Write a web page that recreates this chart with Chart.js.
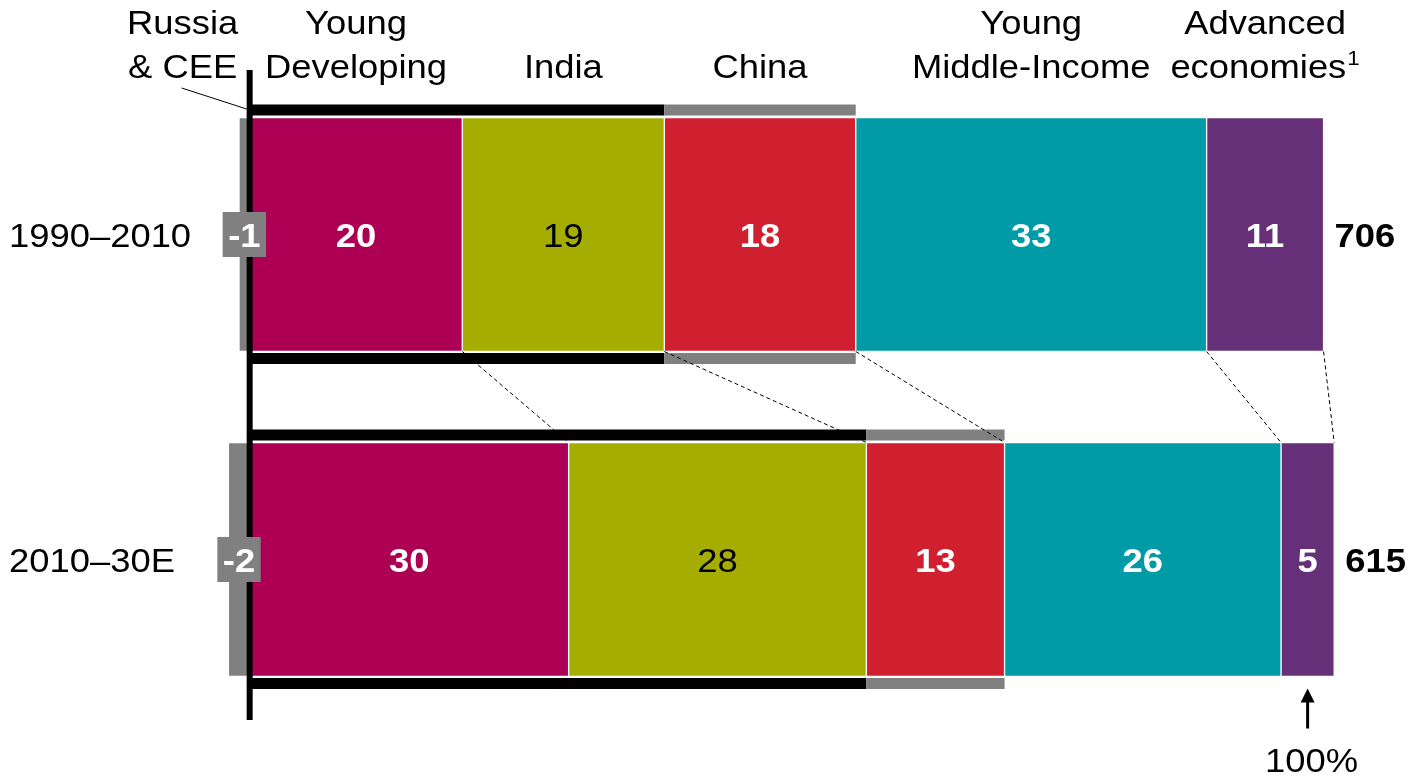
<!DOCTYPE html>
<html>
<head>
<meta charset="utf-8">
<script src="https://cdn.jsdelivr.net/npm/chart.js@4.4.0/dist/chart.umd.min.js"></script>
<style>
  html, body { margin: 0; padding: 0; background: #fff; }
  #wrap { width: 1412px; height: 777px; position: relative; }
</style>
</head>
<body>
<div id="wrap"><canvas id="c"></canvas></div>
<script>
// periods and segment groups
const periods = ['1990–2010', '2010–30E'];
const groupNames = [['Russia', '& CEE'], ['Young', 'Developing'], ['India'], ['China'], ['Young', 'Middle-Income'], ['Advanced', 'economies']];
const groupNotes = ['', '', '', '', '', '1'];

// share of growth, % (per period)
const russiaCEE = [-1, -2];
const youngDeveloping = [20, 30];
const india = [19, 28];
const china = [18, 13];
const youngMiddleIncome = [33, 26];
const advanced = [11, 5];
const totals = [706, 615];
const arrowLabel = '100%';

const series = [russiaCEE, youngDeveloping, india, china, youngMiddleIncome, advanced];
const COLORS = ['#808080', '#ad0055', '#a5ad00', '#d0202f', '#009ba7', '#663079'];
const DARK_LABEL = [false, false, true, false, false, false];
const FONT = '"Liberation Sans", Arial, sans-serif';
const SX = 1.07; // text in the picture is a bit wide
const SIZE = 34;

function setFont(ctx, size, bold) { ctx.font = (bold ? 'bold ' : '') + size + 'px ' + FONT; }
function text(ctx, s, x, y, o) {
  o = o || {};
  ctx.save();
  setFont(ctx, o.size || SIZE, o.bold);
  ctx.fillStyle = o.color || '#000';
  ctx.textAlign = o.align || 'center';
  ctx.textBaseline = 'alphabetic';
  ctx.translate(x, y); ctx.scale(SX, 1);
  ctx.fillText(s, 0, 0);
  ctx.restore();
}
function textWidth(ctx, s, size, bold) {
  ctx.save(); setFont(ctx, size, bold);
  const w = ctx.measureText(s).width * SX;
  ctx.restore(); return w;
}

const overlay = {
  id: 'overlay',
  afterDatasetsDraw(chart) {
    const { ctx, chartArea } = chart;
    const zero = chart.scales.x.getPixelForValue(0);
    const bars = chart.data.datasets.map((_, i) => chart.getDatasetMeta(i).data);
    const row = (r) => { const el = bars[1][r]; return { y: el.y, top: el.y - el.height / 2, bottom: el.y + el.height / 2 }; };
    const mid = (el) => (el.x + el.base) / 2;
    const capOff = SIZE * 0.36;

    // black / grey brackets above and below each bar
    periods.forEach((_, r) => {
      const { top, bottom } = row(r);
      const blackEnd = bars[2][r].x, greyStart = bars[3][r].base, greyEnd = bars[3][r].x;
      [top - 13, bottom + 1.5].forEach((yy) => {
        ctx.fillStyle = '#000'; ctx.fillRect(zero, yy, blackEnd - zero, 11);
        ctx.fillStyle = '#808080'; ctx.fillRect(greyStart, yy, greyEnd - greyStart, 11);
      });
    });

    // dashed connectors between the two bars
    const r0 = row(0), r1 = row(1);
    const links = [2, 3, 4, 5].map((i) => [bars[i][0].base, bars[i][1].base]);
    links.push([bars[5][0].x, bars[5][1].x]);
    ctx.save();
    ctx.setLineDash([4, 3]); ctx.lineWidth = 1; ctx.strokeStyle = '#000';
    links.forEach(([a, b]) => { ctx.beginPath(); ctx.moveTo(a, r0.bottom); ctx.lineTo(b, r1.top); ctx.stroke(); });
    ctx.restore();

    // zero axis
    ctx.fillStyle = '#000';
    ctx.fillRect(zero - 3, chartArea.top - 2, 6, chartArea.bottom - chartArea.top);

    // segment values
    for (let i = 1; i < series.length; i++) {
      bars[i].forEach((el, r) => {
        const dark = DARK_LABEL[i];
        text(ctx, String(series[i][r]), mid(el), el.y + capOff, { bold: !dark, color: dark ? '#000' : '#fff' });
      });
    }
    // negative values in grey boxes
    bars[0].forEach((el, r) => {
      const s = String(series[0][r]);
      const w = textWidth(ctx, s, SIZE, true) + 11;
      const cx = mid(el);
      ctx.fillStyle = '#808080';
      ctx.fillRect(cx - w / 2, el.y - 22.5, w, 45);
      text(ctx, s, cx, el.y + capOff, { bold: true, color: '#fff' });
    });

    // totals and period labels
    periods.forEach((p, r) => {
      const { y } = row(r);
      text(ctx, String(totals[r]), bars[5][r].x + 11, y + capOff, { bold: true, align: 'left' });
      text(ctx, p, 9, y + capOff, { align: 'left' });
    });

    // group headers
    groupNames.forEach((lines, i) => {
      const cx = i === 0 ? zero - 67 : mid(bars[i][0]);
      lines.forEach((ln, k) => {
        const base = 78 - (lines.length - 1 - k) * 44;
        const note = k === lines.length - 1 ? groupNotes[i] : '';
        if (!note) { text(ctx, ln, cx, base); return; }
        const w1 = textWidth(ctx, ln, SIZE, false), w2 = textWidth(ctx, note, 21, false);
        const left = cx - (w1 + 1 + w2) / 2;
        text(ctx, ln, left, base, { align: 'left' });
        text(ctx, note, left + w1 + 1, base - 13, { align: 'left', size: 21 });
      });
    });

    // leader line for Russia & CEE
    ctx.save();
    ctx.lineWidth = 1; ctx.strokeStyle = '#000';
    ctx.beginPath(); ctx.moveTo(zero - 68, 88); ctx.lineTo(zero - 3, 109); ctx.stroke();
    ctx.restore();

    // arrow to the last bar
    const ax = mid(bars[5][1]);
    const tip = r1.bottom + 12;
    ctx.fillStyle = '#000';
    ctx.beginPath(); ctx.moveTo(ax, tip); ctx.lineTo(ax - 7, tip + 14); ctx.lineTo(ax + 7, tip + 14); ctx.closePath(); ctx.fill();
    ctx.fillRect(ax - 1.5, tip + 12, 3, 28);
    text(ctx, arrowLabel, ax + 4, 772);
  }
};

new Chart(document.getElementById('c'), {
  type: 'bar',
  data: {
    labels: periods,
    datasets: series.map((vals, i) => ({
      label: groupNames[i].join(' '),
      data: vals,
      backgroundColor: COLORS[i],
      borderColor: '#fff',
      borderWidth: 1,
      borderSkipped: false,
      barThickness: 234,
    })),
  },
  options: {
    indexAxis: 'y',
    responsive: true,
    maintainAspectRatio: false,
    animation: false,
    layout: { padding: { left: 37, right: 14, top: 72, bottom: 55 } },
    plugins: { legend: { display: false }, tooltip: { enabled: false } },
    scales: {
      x: { stacked: true, min: -20, max: 108, display: false },
      y: { stacked: true, display: false },
    },
  },
  plugins: [overlay],
});
</script>
</body>
</html>
